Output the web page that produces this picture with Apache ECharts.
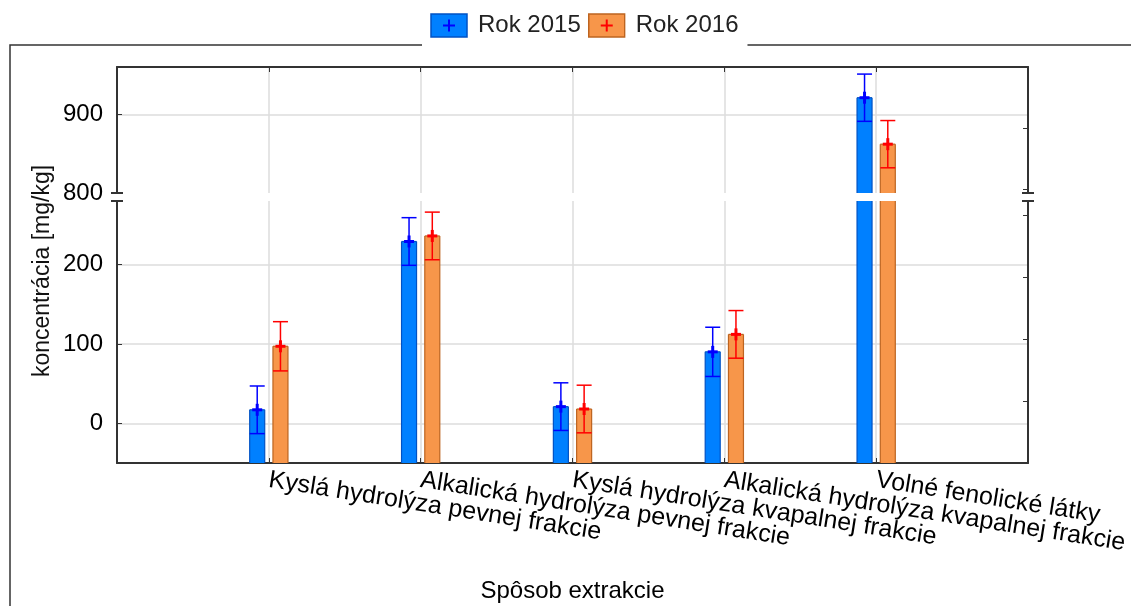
<!DOCTYPE html>
<html>
<head>
<meta charset="utf-8">
<script src="https://cdn.jsdelivr.net/npm/echarts@6/dist/echarts.min.js"></script>
<style>
  html, body { margin: 0; padding: 0; background: #fff; }
  #chart { width: 1131px; height: 606px; }
</style>
</head>
<body>
<div id="chart"></div>
<script>
// categories (empty slots at both ends keep the ticks on the bar pairs)
var categories = ['', 'Kyslá hydrolýza pevnej frakcie', 'Alkalická hydrolýza pevnej frakcie',
  'Kyslá hydrolýza kvapalnej frakcie', 'Alkalická hydrolýza kvapalnej frakcie',
  'Volné fenolické látky', ''];
var seriesNames = ['Rok 2015', 'Rok 2016'];
var values2015 = [17, 229, 21, 90, 921];
var values2016 = [97, 236, 18, 112, 862];
var err2015 = [30, 30, 30, 31, 30];
var err2016 = [31, 30, 30, 30, 30];
// broken y axis: lower and upper part
var lowerRange = [-50, 280];
var upperRange = [800, 960];

var FONT = '"Liberation Sans", Arial, sans-serif';
var GRID_LEFT = 117, GRID_RIGHT = 103;
var UP_TOP = 67, UP_H = 126;
var LOW_TOP = 201, LOW_H = 262;
var BAR_W = 15, BAR_GAP = 0.55;
var half = BAR_W * (1 + BAR_GAP) / 2;

var colors = {
  '2015': { fill: '#0080ff', border: '#0052c4', err: '#0000ff' },
  '2016': { fill: '#f7964a', border: '#bd6420', err: '#ff0000' }
};

function pointData(vals, errs) {
  return vals.map(function (v, i) { return [i + 1, v, errs[i]]; });
}

function ln(x1, y1, x2, y2, color, w) {
  return { type: 'line', shape: { x1: x1, y1: y1, x2: x2, y2: y2 },
    style: { stroke: color, lineWidth: w } };
}

// bars start at the bottom of the axis and are cut at the break
function barRender(offset, c, lo, hi) {
  return function (params, api) {
    var x = api.value(0), v = api.value(1);
    if (v <= lo) return;
    var top = Math.min(v, hi);
    var p0 = api.coord([x, lo]);
    var p1 = api.coord([x, top]);
    var l = p0[0] + offset - BAR_W / 2, r = l + BAR_W;
    var children = [
      { type: 'rect', shape: { x: l, y: p1[1], width: BAR_W, height: p0[1] - p1[1] },
        style: { fill: c.fill } },
      ln(l, p0[1], l, p1[1], c.border, 1.2),
      ln(r, p0[1], r, p1[1], c.border, 1.2)
    ];
    if (v <= hi) children.push(ln(l, p1[1], r, p1[1], c.border, 1.2));
    return { type: 'group', children: children };
  };
}

function errRender(offset, color, lo, hi) {
  return function (params, api) {
    var v = api.value(1), e = api.value(2);
    if (v - e < lo || v + e > hi) return;
    var c = api.coord([api.value(0), v]);
    var t = api.coord([api.value(0), v + e]);
    var b = api.coord([api.value(0), v - e]);
    var x = c[0] + offset;
    var hw = BAR_W / 2;
    return { type: 'group', children: [
      ln(x, t[1], x, b[1], color, 1.5),
      ln(x - hw, t[1], x + hw, t[1], color, 1.5),
      ln(x - hw, b[1], x + hw, b[1], color, 1.5),
      ln(x - 5, c[1], x + 5, c[1], color, 3),
      ln(x, c[1] - 6, x, c[1] + 6, color, 3)
    ] };
  };
}

function legendIcon(c) {
  var svg = "<svg xmlns='http://www.w3.org/2000/svg' width='38' height='25'>" +
    "<rect x='1' y='1' width='36' height='23' fill='" + c.fill + "' stroke='" + c.border + "' stroke-width='1.5'/>" +
    "<path d='M13 12.5H25M19 6.5V18.5' stroke='" + c.err + "' stroke-width='2'/></svg>";
  return 'image://data:image/svg+xml;charset=utf-8,' + encodeURIComponent(svg);
}

var axisLineStyle = { color: '#333', width: 2 };
var gridLineStyle = { color: '#dcdcdc', width: 1.5 };

function xAxis(gridIndex, pos, withLabels) {
  return {
    type: 'category', gridIndex: gridIndex, position: pos, data: categories,
    boundaryGap: false,
    axisLine: { show: true, onZero: false, lineStyle: axisLineStyle },
    axisTick: { show: true, inside: true, length: 5, interval: 0, lineStyle: { color: '#333' } },
    axisLabel: withLabels ? {
      show: true, interval: 0, rotate: -9, margin: 17,
      fontSize: 25, fontFamily: FONT, color: '#000'
    } : { show: false },
    splitLine: { show: true, interval: 0, lineStyle: gridLineStyle },
    name: withLabels ? 'Spôsob extrakcie' : '',
    nameLocation: 'middle', nameGap: 116,
    nameTextStyle: { fontSize: 24, fontFamily: FONT, color: '#000' }
  };
}

function yLeft(gridIndex, range, showMin) {
  return {
    type: 'value', gridIndex: gridIndex, position: 'left',
    min: range[0], max: range[1], minInterval: 100, maxInterval: 100,
    axisLine: { show: true, lineStyle: axisLineStyle },
    axisTick: { show: true, inside: true, length: 5, lineStyle: { color: '#333' } },
    axisLabel: { fontSize: 24, fontFamily: FONT, color: '#000', margin: 14,
      showMinLabel: showMin, showMaxLabel: false },
    splitLine: { show: true, lineStyle: gridLineStyle, showMinLine: false, showMaxLine: false }
  };
}

function yRight(gridIndex, min, max) {
  return {
    type: 'value', gridIndex: gridIndex, position: 'right',
    min: min, max: max, minInterval: 1, maxInterval: 1,
    axisLine: { show: true, lineStyle: axisLineStyle },
    axisTick: { show: true, inside: true, length: 5, lineStyle: { color: '#333' } },
    axisLabel: { show: false },
    splitLine: { show: false }
  };
}

var series = [];
[0, 1].forEach(function (g) {
  var range = g === 0 ? upperRange : lowerRange;
  var yIdx = g === 0 ? 0 : 2;
  [['2015', values2015, err2015, -half], ['2016', values2016, err2016, half]].forEach(function (s, k) {
    var c = colors[s[0]];
    var data = pointData(s[1], s[2]);
    series.push({
      name: seriesNames[k], type: 'custom', xAxisIndex: g, yAxisIndex: yIdx,
      data: data, encode: { x: 0, y: 1 }, z: 2,
      itemStyle: { color: c.fill },
      renderItem: barRender(s[3], c, range[0], range[1])
    });
    series.push({
      name: seriesNames[k], type: 'custom', xAxisIndex: g, yAxisIndex: yIdx,
      data: data, encode: { x: 0, y: 1 }, z: 5,
      itemStyle: { color: c.fill },
      renderItem: errRender(s[3], c.err, range[0], range[1])
    });
  });
});

// break marks on both vertical axes
var breakMarks = [];
[GRID_LEFT, 1131 - GRID_RIGHT].forEach(function (x) {
  [UP_TOP + UP_H, LOW_TOP].forEach(function (y) {
    breakMarks.push({ type: 'line', shape: { x1: x - 6, y1: y, x2: x + 6, y2: y },
      style: { stroke: '#333', lineWidth: 2 }, z: 10 });
  });
});

var option = {
  animation: false,
  backgroundColor: '#fff',
  grid: [
    { left: GRID_LEFT, right: GRID_RIGHT, top: UP_TOP, height: UP_H, outerBoundsMode: 'none' },
    { left: GRID_LEFT, right: GRID_RIGHT, top: LOW_TOP, height: LOW_H, outerBoundsMode: 'none' }
  ],
  legend: {
    left: 422, top: 7, padding: [6, 9, 10, 8], backgroundColor: '#fff', z: 20,
    itemWidth: 38, itemHeight: 25, itemGap: 7,
    textStyle: { fontSize: 24, fontFamily: FONT, color: '#222', padding: [0, 0, 0, 5] },
    data: [
      { name: seriesNames[0], icon: legendIcon(colors['2015']) },
      { name: seriesNames[1], icon: legendIcon(colors['2016']) }
    ]
  },
  xAxis: [xAxis(0, 'top', false), xAxis(1, 'bottom', true)],
  yAxis: [
    yLeft(0, upperRange, true),
    yRight(0, -0.067, 2),
    yLeft(1, lowerRange, false),
    yRight(1, 0, 4.23)
  ],
  graphic: [
    { type: 'rect', z: 1, shape: { x: 10, y: 45, width: 1300, height: 700 },
      style: { fill: 'none', stroke: '#333', lineWidth: 1.5 } },
    { type: 'text', z: 1, x: 43, y: 271, rotation: Math.PI / 2,
      style: { text: 'koncentrácia [mg/kg]', fontSize: 23, fontFamily: FONT,
        fill: '#111', align: 'center', verticalAlign: 'middle' } }
  ].concat(breakMarks),
  series: series
};

var chart = echarts.init(document.getElementById('chart'));
chart.setOption(option);
</script>
</body>
</html>
